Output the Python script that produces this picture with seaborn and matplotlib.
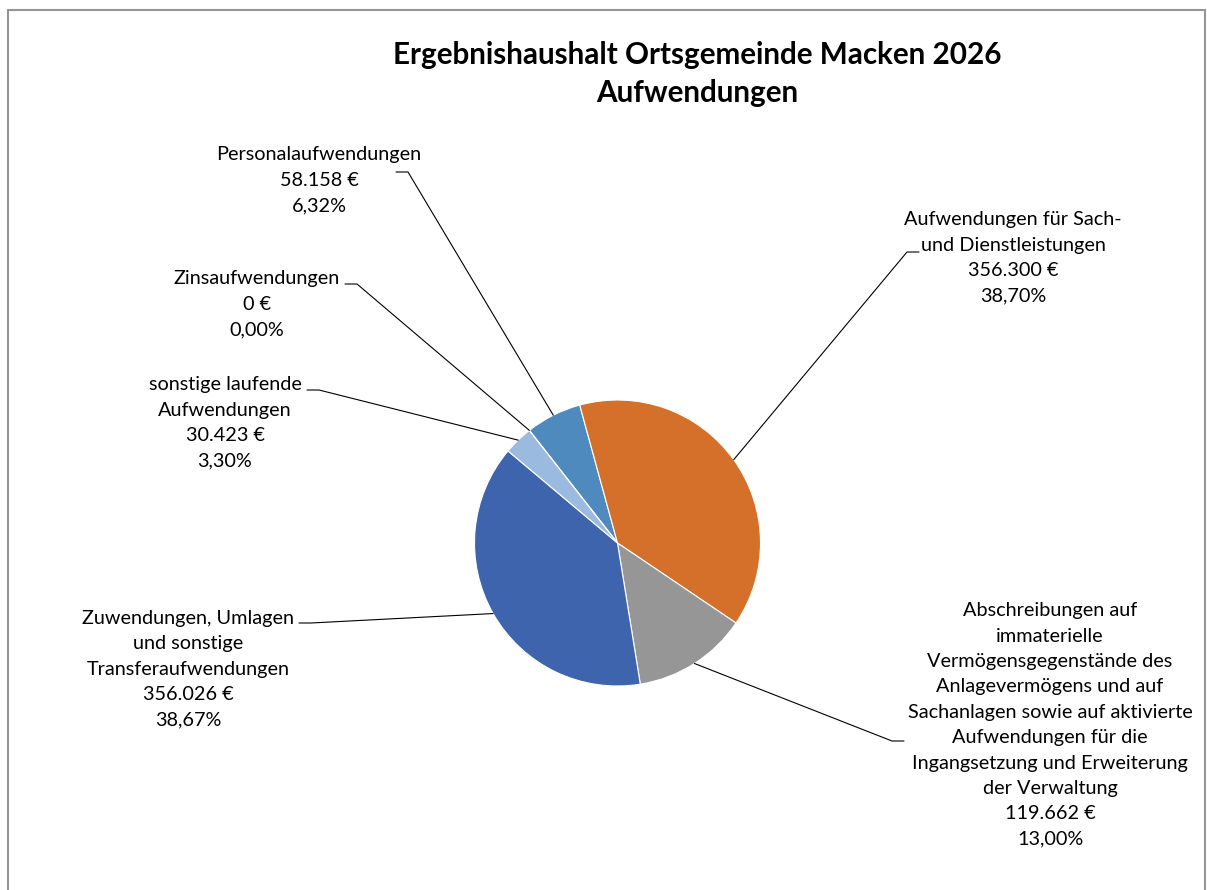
import matplotlib
matplotlib.use("Agg")
import matplotlib.pyplot as plt
import matplotlib.patches as mpatches
import numpy as np
import seaborn as sns

# Data
categories = [
    "Personalaufwendungen",
    "Aufwendungen für Sach-\nund Dienstleistungen",
    "Abschreibungen auf\nimmaterielle\nVermögensgegenstände des\nAnlagevermögens und auf\n"
    "Sachanlagen sowie auf aktivierte\nAufwendungen für die\nIngangsetzung und Erweiterung\nder Verwaltung",
    "Zuwendungen, Umlagen\nund sonstige\nTransferaufwendungen",
    "sonstige laufende\nAufwendungen",
    "Zinsaufwendungen",
]
values = [58158, 356300, 119662, 356026, 30423, 0]
colors = ["#4E8ABE", "#D5702B", "#969696", "#3D64AD", "#9BBAE0", "#8FAADC"]

title = "Ergebnishaushalt Ortsgemeinde Macken 2026\nAufwendungen"

# layout (pixels, y from top): label centre, leader stub start, stub end
label_pos = [(319, 180), (1013, 258), (1050, 725), (188, 669), (225, 423), (257, 304)]
stub_pos = [((396, 172), (408, 172)), ((919, 252), (907, 252)), ((904, 741), (892, 741)),
            ((299, 623), (311, 623)), ((307, 390), (319, 390)), ((345, 284), (357, 284))]

W, H = 1207, 890
pie_center = (617.5, 543)
pie_radius = 143

sns.set_theme(style="white")
plt.rcParams['font.family'] = ['Lato', 'DejaVu Sans']

fig = plt.figure(figsize=(W / 100, H / 100), dpi=100)
ax = fig.add_axes([0, 0, 1, 1])

def fy(y):
    return H - y

wedges, _ = ax.pie(values, colors=colors, startangle=128.05, counterclock=False,
                   center=(pie_center[0], fy(pie_center[1])), radius=pie_radius,
                   wedgeprops=dict(edgecolor="white", linewidth=0.8))
ax.set_xlim(0, W)
ax.set_ylim(0, H)
ax.set_aspect("auto")
ax.axis("off")

total = sum(values)
for i, w in enumerate(wedges):
    pct = values[i] / total * 100
    amount = f"{values[i]:,}".replace(",", ".")
    txt = f"{categories[i]}\n{amount} €\n" + f"{pct:.2f}".replace(".", ",") + "%"
    lx, ly = label_pos[i]
    ax.text(lx, fy(ly), txt, ha="center", va="center", multialignment="center",
            fontsize=14.3, linespacing=1.6, color="black")
    # leader line: stub next to the label, then to the wedge's mid point on the rim
    mid = np.deg2rad((w.theta1 + w.theta2) / 2)
    ex = w.center[0] + w.r * np.cos(mid)
    ey = w.center[1] + w.r * np.sin(mid)
    (sx, sy), (tx, ty) = stub_pos[i]
    ax.plot([sx, tx, ex], [fy(sy), fy(ty), ey], color="black", lw=0.8)

ax.text(697, fy(74), title, ha="center", va="center", fontsize=21.3,
        fontweight="bold", linespacing=1.42, color="black")

fig.patches.append(mpatches.Rectangle((7.5 / W, -0.01), (1205 - 7.5) / W, (H - 10 + 9) / H,
                                      transform=fig.transFigure, fill=False,
                                      edgecolor="#959595", linewidth=1.5))

fig.savefig("out.png", dpi=100, facecolor="white")
